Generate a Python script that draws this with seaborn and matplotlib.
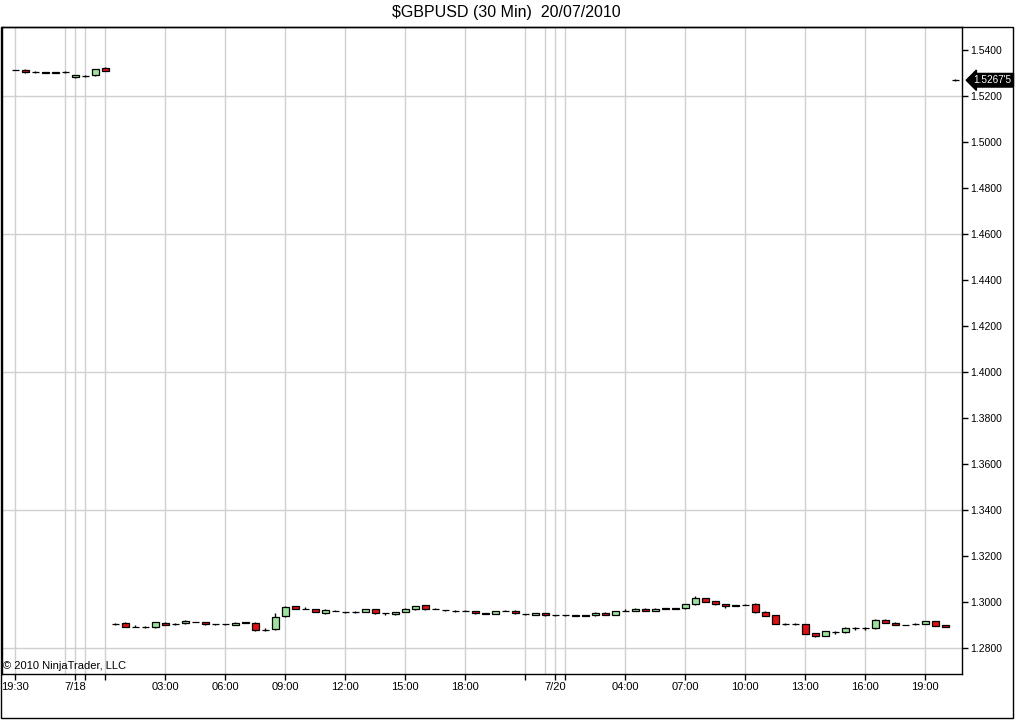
import numpy as np
import pandas as pd
import matplotlib
matplotlib.use("Agg")
import matplotlib.pyplot as plt
import matplotlib.transforms as mtransforms
from matplotlib.patches import Rectangle
import seaborn as sns

# 30 min GBPUSD bars
opens = [1.5312, 1.5313, 1.5303, 1.5302, 1.5302, 1.5302, 1.5280, 1.5287, 1.5290, 1.5319,
         1.2903, 1.2909, 1.2891, 1.2890, 1.2889, 1.2909, 1.2904, 1.2906, 1.2913, 1.2911,
         1.2904, 1.2904, 1.2900, 1.2910, 1.2909, 1.2878, 1.2880, 1.2938, 1.2981, 1.2970,
         1.2967, 1.2952, 1.2962, 1.2956, 1.2955, 1.2955, 1.2967, 1.2950, 1.2946, 1.2955,
         1.2967, 1.2984, 1.2970, 1.2965, 1.2961, 1.2962, 1.2958, 1.2951, 1.2946, 1.2961,
         1.2962, 1.2947, 1.2944, 1.2952, 1.2941, 1.2941, 1.2942, 1.2942, 1.2941, 1.2952,
         1.2944, 1.2962, 1.2961, 1.2970, 1.2961, 1.2971, 1.2971, 1.2972, 1.2990, 1.3015,
         1.3003, 1.2989, 1.2984, 1.2986, 1.2991, 1.2957, 1.2942, 1.2905, 1.2905, 1.2904,
         1.2864, 1.2852, 1.2870, 1.2867, 1.2884, 1.2884, 1.2884, 1.2922, 1.2907, 1.2900,
         1.2904, 1.2904, 1.2916, 1.2899, 1.5268]
highs = [1.5314, 1.5315, 1.5306, 1.5303, 1.5303, 1.5306, 1.5292, 1.5292, 1.5316, 1.5324,
         1.2906, 1.2911, 1.2897, 1.2894, 1.2914, 1.2911, 1.2907, 1.2919, 1.2914, 1.2912,
         1.2905, 1.2905, 1.2910, 1.2911, 1.2910, 1.2886, 1.2951, 1.2980, 1.2983, 1.2976,
         1.2968, 1.2968, 1.2964, 1.2957, 1.2958, 1.2968, 1.2968, 1.2951, 1.2957, 1.2971,
         1.2983, 1.2985, 1.2973, 1.2966, 1.2965, 1.2963, 1.2960, 1.2951, 1.2962, 1.2964,
         1.2963, 1.2948, 1.2953, 1.2953, 1.2944, 1.2943, 1.2944, 1.2943, 1.2956, 1.2954,
         1.2959, 1.2967, 1.2971, 1.2971, 1.2971, 1.2972, 1.2972, 1.2991, 1.3023, 1.3016,
         1.3004, 1.2990, 1.2985, 1.2992, 1.2993, 1.2958, 1.2943, 1.2906, 1.2906, 1.2905,
         1.2866, 1.2875, 1.2871, 1.2889, 1.2889, 1.2889, 1.2923, 1.2923, 1.2911, 1.2901,
         1.2907, 1.2917, 1.2917, 1.2900, 1.5272]
lows = [1.5311, 1.5301, 1.5300, 1.5299, 1.5299, 1.5300, 1.5278, 1.5283, 1.5288, 1.5307,
        1.2900, 1.2889, 1.2891, 1.2887, 1.2888, 1.2898, 1.2900, 1.2905, 1.2910, 1.2901,
        1.2901, 1.2901, 1.2899, 1.2907, 1.2873, 1.2875, 1.2878, 1.2935, 1.2968, 1.2970,
        1.2955, 1.2948, 1.2958, 1.2953, 1.2952, 1.2954, 1.2949, 1.2944, 1.2944, 1.2954,
        1.2966, 1.2964, 1.2967, 1.2962, 1.2957, 1.2959, 1.2949, 1.2948, 1.2945, 1.2958,
        1.2948, 1.2943, 1.2942, 1.2939, 1.2938, 1.2939, 1.2938, 1.2939, 1.2940, 1.2942,
        1.2943, 1.2959, 1.2960, 1.2960, 1.2960, 1.2968, 1.2968, 1.2969, 1.2988, 1.3000,
        1.2985, 1.2975, 1.2981, 1.2984, 1.2953, 1.2937, 1.2903, 1.2897, 1.2901, 1.2859,
        1.2846, 1.2850, 1.2858, 1.2865, 1.2879, 1.2879, 1.2883, 1.2906, 1.2897, 1.2897,
        1.2901, 1.2903, 1.2894, 1.2889, 1.5264]
closes = [1.5312, 1.5303, 1.5303, 1.5300, 1.5300, 1.5302, 1.5290, 1.5287, 1.5316, 1.5309,
          1.2903, 1.2891, 1.2891, 1.2890, 1.2912, 1.2900, 1.2904, 1.2915, 1.2911, 1.2902,
          1.2902, 1.2902, 1.2909, 1.2908, 1.2877, 1.2876, 1.2935, 1.2978, 1.2970, 1.2970,
          1.2957, 1.2964, 1.2960, 1.2954, 1.2955, 1.2967, 1.2950, 1.2950, 1.2955, 1.2970,
          1.2981, 1.2967, 1.2970, 1.2963, 1.2961, 1.2960, 1.2950, 1.2949, 1.2961, 1.2961,
          1.2950, 1.2945, 1.2952, 1.2941, 1.2941, 1.2941, 1.2940, 1.2940, 1.2952, 1.2944,
          1.2958, 1.2960, 1.2970, 1.2961, 1.2970, 1.2969, 1.2969, 1.2990, 1.3017, 1.3001,
          1.2989, 1.2980, 1.2982, 1.2986, 1.2954, 1.2939, 1.2904, 1.2903, 1.2903, 1.2861,
          1.2853, 1.2873, 1.2870, 1.2887, 1.2884, 1.2884, 1.2922, 1.2907, 1.2899, 1.2898,
          1.2904, 1.2916, 1.2896, 1.2890, 1.52675]

# x axis labels (bar index -> label), unlabeled ticks and separator lines
tick_bars = [0, 6, 7, 9, 15, 21, 27, 33, 39, 45, 51, 54, 55, 61, 67, 73, 79, 85, 91]
tick_labels = ["19:30", "7/18", "", "", "03:00", "06:00", "09:00", "12:00", "15:00",
               "18:00", "", "7/20", "", "04:00", "07:00", "10:00", "13:00", "16:00", "19:00"]
grid_bars = [0, 5, 6, 7, 9, 15, 21, 27, 33, 39, 45, 51, 53, 54, 55, 61, 67, 73, 79, 85, 91]

price_ticks = np.round(np.arange(1.28, 1.5401, 0.02), 2)
price_grid = [1.28, 1.34, 1.40, 1.46, 1.52]
last_label = "1.5267'5"

df = pd.DataFrame({"open": opens, "high": highs, "low": lows, "close": closes})
df["bar"] = np.arange(len(df))

sns.set_theme(style="white")
plt.rcParams["font.family"] = ["Liberation Sans", "DejaVu Sans"]

fig = plt.figure(figsize=(10.16, 7.2), dpi=100)
ax = fig.add_axes([2 / 1016, 46 / 720, 960 / 1016, 647 / 720])
ax.set_facecolor("white")

up_col = "#9de39d"
down_col = "#dd1111"

for b in grid_bars:
    ax.axvline(b, color="#d0d0d0", lw=1, zorder=0)
for p in price_grid:
    ax.axhline(p, color="#d0d0d0", lw=1, zorder=0)

# wicks
ax.vlines(df["bar"], df["low"], df["high"], color="black", lw=1, zorder=2)

# bodies
body_bottom = df[["open", "close"]].min(axis=1)
body_height = (df["close"] - df["open"]).abs()
colors = np.where(df["close"] > df["open"], up_col, down_col)
ax.bar(df["bar"], body_height, bottom=body_bottom, width=0.7, color=colors,
       edgecolor="black", linewidth=0.9, zorder=3)

ax.set_xlim(-1.3, 94.7)
ax.set_ylim(1.2686, 1.5499)

ax.yaxis.tick_right()
ax.set_yticks(price_ticks)
ax.set_yticklabels([f"{p:.4f}" for p in price_ticks])
ax.set_xticks(tick_bars)
ax.set_xticklabels(tick_labels)
ax.tick_params(axis="both", direction="out", length=4, width=1, color="black",
               labelcolor="black", pad=2)
ax.tick_params(axis="x", bottom=True, labelsize=8)
ax.tick_params(axis="y", right=True, left=False, labelsize=7.5)
for s in ax.spines.values():
    s.set_color("black")
    s.set_linewidth(1)

ax.text(0.001, 0.012, "\u00a9 2010 NinjaTrader, LLC", transform=ax.transAxes,
        fontsize=8, ha="left", va="center", color="black")

# last price tag
trans = mtransforms.blended_transform_factory(ax.transAxes, ax.transData)
ax.text(1.012, closes[-1], last_label, transform=trans, fontsize=7.2, color="white",
        ha="left", va="center", clip_on=False,
        bbox=dict(boxstyle="larrow,pad=0.18", fc="black", ec="black"))

fig.text(0.498, 1 - 13 / 720, "$GBPUSD (30 Min)  20/07/2010", fontsize=11.5,
         ha="center", va="center", color="black")

fig.patches.append(Rectangle((1 / 1016, 2 / 720), 1012 / 1016, 691 / 720,
                             transform=fig.transFigure, fill=False, ec="black", lw=1))

fig.savefig("out.png", dpi=100, facecolor="white")
